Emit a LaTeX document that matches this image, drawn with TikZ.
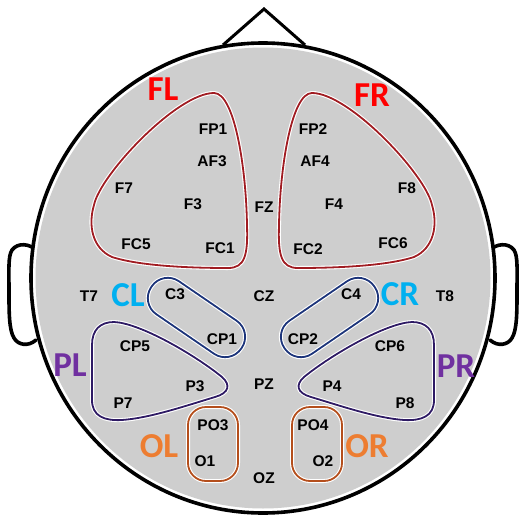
\documentclass[tikz,border=0pt]{standalone}
\usepackage{fontspec}
\newfontfamily\elfont{Liberation Sans}
\newfontfamily\grpfont{Carlito}
\definecolor{scalp}{RGB}{206,206,206}
\definecolor{frontc}{RGB}{160,28,34}
\definecolor{centc}{RGB}{28,52,122}
\definecolor{parc}{RGB}{46,26,100}
\definecolor{occc}{RGB}{180,78,28}
\definecolor{lblred}{RGB}{255,0,0}
\definecolor{lblblue}{RGB}{0,176,240}
\definecolor{lblpurple}{RGB}{112,48,160}
\definecolor{lblorange}{RGB}{237,125,49}
\tikzset{
  outline/.style={line width=3.6pt, line join=round, line cap=round},
  halo/.style={draw=white, line width=4pt},
  region/.style={line width=1.8pt},
  electrode/.style={inner sep=0pt, font=\elfont\bfseries\fontsize{15.5}{15.5}\selectfont},
  group/.style={inner sep=0pt, font=\grpfont\bfseries\fontsize{35}{35}\selectfont},
}
% region outlines, each drawn twice: a white halo and a coloured line
\newcommand{\frontpath}{(214,93) .. controls (234,93) and (246,165) .. (247,225)
  .. controls (248,255) and (245,268) .. (228,268)
  .. controls (190,268) and (140,266) .. (112,257)
  .. controls (92,248) and (88,225) .. (94,205)
  .. controls (100,175) and (177,93) .. (214,93) -- cycle}
\newcommand{\parpath}{(92,345) .. controls (92,330) and (100,322) .. (114,322)
  .. controls (140,323) and (195,355) .. (222,377)
  .. controls (231,385) and (229,393) .. (215,397)
  .. controls (185,406) and (150,418) .. (122,420)
  .. controls (104,421) and (92,416) .. (92,400) -- cycle}
\newcommand{\centpath}{(-20,-20) rectangle (89,20)}
\begin{document}
\begin{tikzpicture}[x=1pt,y=-1pt]
\useasboundingbox (0,0) rectangle (519,525);

% ears
\foreach \s/\o in {1/0,-1/526}{
  \begin{scope}[xshift=\o pt, xscale=\s]
    \draw[outline, fill=white] (36,250) .. controls (30,244) and (18,242) .. (12,250)
      .. controls (8,256) and (9,270) .. (9,292)
      .. controls (9,312) and (9,330) .. (14,338)
      .. controls (18,345) and (28,347) .. (36,340);
  \end{scope}
}
% nose
\coordinate (noseL) at (223,45);
\coordinate (noseT) at (264,9);
\coordinate (noseR) at (305,45);
\draw[line width=3pt, line join=miter, fill=white] (noseL) -- (noseT) -- (noseR);

% head
\fill[white] (263,278) ellipse [x radius=232, y radius=235];
\fill[scalp] (263,278) ellipse [x radius=227.5, y radius=230.5];
\draw[outline] (263,278) ellipse [x radius=232, y radius=235];

% left and right regions
\foreach \s/\o in {1/0,-1/526}{
  \begin{scope}[xshift=\o pt, xscale=\s]
    \draw[halo] \frontpath;
    \draw[region, draw=frontc] \frontpath;
    \draw[halo] \parpath;
    \draw[region, draw=parc] \parpath;
    \begin{scope}[shift={(168,298)}, rotate=-34.4]
      \draw[halo, rounded corners=19.5pt] \centpath;
      \draw[region, draw=centc, rounded corners=19.5pt] \centpath;
    \end{scope}
  \end{scope}
}
% occipital regions
\draw[halo, rounded corners=18pt] (188,407) rectangle (238,481);
\draw[region, draw=occc, rounded corners=18pt] (188,407) rectangle (238,481);
\draw[halo, rounded corners=18pt] (292,407) rectangle (342,481);
\draw[region, draw=occc, rounded corners=18pt] (292,407) rectangle (342,481);

% electrodes
\foreach \n/\x/\y in {FP1/213/129, AF3/212/161, F7/124/188, F3/193/204, FZ/264/207,
  FC5/136/244, FC1/220/248, FP2/313/129, AF4/315/161, F8/407/188, F4/334/204,
  FC2/308/249, FC6/393/243, T7/89/296, C3/175/294, CZ/264/296, C4/351/294,
  T8/445/296, CP1/222/339, CP2/303/339, CP5/135/346, CP6/390/346, PZ/264/384,
  P3/195/386, P4/332/386, P7/123/403, P8/405/403, PO3/213/425, PO4/313/425,
  O1/205/461, O2/323/461, OZ/264/478}{
  \node[electrode] (e\n) at (\x,\y) {\n};
}

% group labels
\node[group, text=lblred] (gFL) at (163,89) {FL};
\node[group, text=lblred] (gFR) at (372,95) {FR};
\node[group, text=lblblue] (gCL) at (128,295) {CL};
\node[group, text=lblblue] (gCR) at (400,294) {CR};
\node[group, text=lblpurple] (gPL) at (70,365) {PL};
\node[group, text=lblpurple] (gPR) at (456,366) {PR};
\node[group, text=lblorange] (gOL) at (159,446) {OL};
\node[group, text=lblorange] (gOR) at (367,446) {OR};
\end{tikzpicture}
\end{document}
